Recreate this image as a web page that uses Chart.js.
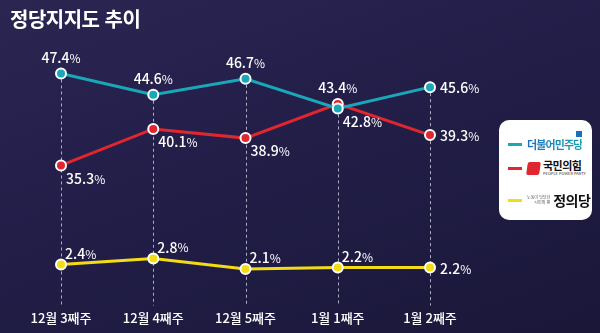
<!DOCTYPE html>
<html lang="ko">
<head>
<meta charset="utf-8">
<script src="https://cdn.jsdelivr.net/npm/chart.js@4/dist/chart.umd.min.js"></script>
<style>
  html, body { margin: 0; padding: 0; }
  body {
    width: 600px; height: 333px; overflow: hidden; position: relative;
    background: linear-gradient(160deg, #2b2552 0%, #221e48 45%, #1a1739 100%);
    font-family: "Noto Sans CJK KR", "Noto Sans", sans-serif;
  }
  #title {
    position: absolute; left: 10px; top: 4px;
    color: #fff; font-size: 20px; font-weight: 700; letter-spacing: -0.5px;
  }
  #wrap { position: absolute; left: 0; top: 0; width: 600px; height: 333px; }
  #legend {
    position: absolute; left: 499px; top: 120px; width: 93px; height: 100px;
    background: #fff; border-radius: 10px;
  }
  .row { position: absolute; left: 9px; display: flex; align-items: center; }
  .dash { width: 14px; height: 3px; margin-right: 5px; }
  .minju {
    font-size: 11px; font-weight: 700; letter-spacing: -0.9px;
    background: linear-gradient(90deg, #1d6fc2, #18a3b1);
    -webkit-background-clip: text; background-clip: text; color: transparent;
  }
  .flag { position: absolute; width: 6px; height: 6px; background: #1a6fc0; }
  .ppp-mark { width: 13px; height: 13px; background: #e0262f; border-radius: 2px; transform: skewX(-8deg); margin-right: 3px; }
  .ppp { color: #111; font-size: 11px; font-weight: 700; line-height: 11px; letter-spacing: -0.5px; }
  .ppp small { display: block; font-size: 4px; line-height: 5px; font-weight: 400; color: #333; letter-spacing: 0; }
  .jp-sub { font-size: 4px; line-height: 5px; color: #555; margin-right: 3px; text-align: right; }
  .jp { color: #111; font-size: 14px; font-weight: 700; letter-spacing: -0.5px; }
</style>
</head>
<body>
<div id="wrap"><canvas id="chart" width="600" height="333"></canvas></div>
<div id="title">정당지지도 추이</div>
<div id="legend">
  <div class="row" style="top:16px"><span class="dash" style="background:#1aa7b8"></span><span class="minju">더불어민주당</span><span class="flag" style="left:68px;top:-5px"></span></div>
  <div class="row" style="top:40px"><span class="dash" style="background:#e0262f"></span><span class="ppp-mark"></span><span class="ppp">국민의힘<small>PEOPLE POWER PARTY</small></span></div>
  <div class="row" style="top:70px"><span class="dash" style="background:#f3dc16"></span><span class="jp-sub">노동이 당당한<br>시민의 편</span><span class="jp">정의당</span></div>
</div>
<script>
// 주차별 정당 지지율(%)
const weeks = ["12월 3째주", "12월 4째주", "12월 5째주", "1월 1째주", "1월 2째주"];
const minjuRates = [47.4, 44.6, 46.7, 42.8, 45.6];
const pppRates = [35.3, 40.1, 38.9, 43.4, 39.3];
const justiceRates = [2.4, 2.8, 2.1, 2.2, 2.2];

// 값 라벨 위치: top(위 가운데), br(오른쪽 아래), tr(오른쪽 위), right(오른쪽)
const minjuLabelPos = ["top", "top", "top", "br", "right"];
const pppLabelPos = ["br", "br", "br", "top", "right"];
const justiceLabelPos = ["tr", "tr", "tr", "tr", "right"];

const LABEL_OFFSETS = {
  top: { dx: 0, dy: -16, align: "center" },
  br: { dx: 5, dy: 13, align: "left" },
  tr: { dx: 4, dy: -11, align: "left" },
  right: { dx: 10, dy: 1, align: "left" },
};

function line(label, data, color, axis, labelPos) {
  return {
    label, data, yAxisID: axis, labelPos,
    borderColor: color,
    backgroundColor: color,
    borderWidth: 3,
    pointRadius: 5,
    pointBorderWidth: 2,
    pointBorderColor: "#ffffff",
    pointBackgroundColor: color,
    tension: 0,
    clip: false,
  };
}

// 첫 번째(민주당) 점에서 바닥까지 점선
const guideLines = {
  id: "guideLines",
  beforeDatasetsDraw(chart) {
    const { ctx, chartArea } = chart;
    const pts = chart.getDatasetMeta(0).data;
    ctx.save();
    ctx.strokeStyle = "rgba(220,220,235,0.75)";
    ctx.lineWidth = 1;
    ctx.setLineDash([3, 3]);
    pts.forEach((p) => {
      ctx.beginPath();
      ctx.moveTo(Math.round(p.x) + 0.5, p.y);
      ctx.lineTo(Math.round(p.x) + 0.5, chartArea.bottom);
      ctx.stroke();
    });
    ctx.restore();
  },
};

// 숫자는 크게, %는 작게
const valueLabels = {
  id: "valueLabels",
  afterDatasetsDraw(chart) {
    const { ctx } = chart;
    ctx.save();
    ctx.fillStyle = "#ffffff";
    ctx.textBaseline = "middle";
    chart.data.datasets.forEach((ds, di) => {
      chart.getDatasetMeta(di).data.forEach((p, i) => {
        const off = LABEL_OFFSETS[ds.labelPos[i]];
        const num = ds.data[i].toFixed(1);
        ctx.font = "500 14px 'Noto Sans CJK KR', 'Noto Sans', sans-serif";
        const wNum = ctx.measureText(num).width;
        ctx.font = "400 12px 'Noto Sans CJK KR', 'Noto Sans', sans-serif";
        const wPct = ctx.measureText("%").width;
        let x = p.x + off.dx;
        if (off.align === "center") x -= (wNum + wPct) / 2;
        const y = p.y + off.dy;
        ctx.textAlign = "left";
        ctx.font = "500 14px 'Noto Sans CJK KR', 'Noto Sans', sans-serif";
        ctx.fillText(num, x, y);
        ctx.font = "400 12px 'Noto Sans CJK KR', 'Noto Sans', sans-serif";
        ctx.fillText("%", x + wNum, y + 0.5);
      });
    });
    ctx.restore();
  },
};

new Chart(document.getElementById("chart"), {
  type: "line",
  data: {
    labels: weeks,
    datasets: [
      line("더불어민주당", minjuRates, "#1aa7b8", "y", minjuLabelPos),
      line("국민의힘", pppRates, "#e0262f", "y", pppLabelPos),
      line("정의당", justiceRates, "#f3dc16", "y2", justiceLabelPos),
    ],
  },
  options: {
    responsive: false,
    animation: false,
    layout: { padding: { left: 61, right: 170, top: 40, bottom: 2 } },
    plugins: { legend: { display: false }, tooltip: { enabled: false } },
    scales: {
      x: {
        offset: false,
        grid: { display: false, drawTicks: false },
        border: { display: false },
        ticks: {
          color: "#ffffff",
          padding: 5,
          maxRotation: 0,
          font: { family: "'Noto Sans CJK KR', sans-serif", size: 13, weight: "500" },
        },
      },
      // 거대 양당용 눈금
      y: { display: false, min: 16.9, max: 51.8 },
      // 정의당용 눈금 (아래쪽에 따로 그림)
      y2: { display: false, min: -0.3, max: 17.2 },
    },
  },
  plugins: [guideLines, valueLabels],
});
</script>
</body>
</html>
